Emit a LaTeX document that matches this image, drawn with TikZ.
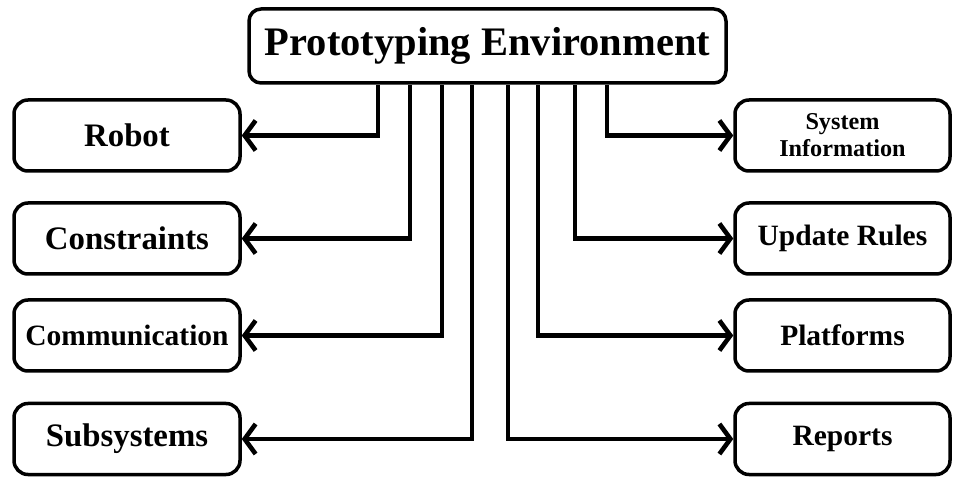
\documentclass[tikz,border=0pt]{standalone}
\usepackage{fontspec}
\setmainfont{Liberation Serif}
\usetikzlibrary{arrows.meta}
\begin{document}
\begin{tikzpicture}[x=1pt,y=-1pt,
  box/.style={draw, line width=3.5pt, rounded corners=14pt, align=center, inner sep=0pt, fill=white},
  sidebox/.style={box, minimum width=226pt, minimum height=71pt},
  txtbig/.style={font=\fontsize{32.8}{36}\selectfont\bfseries},
  txtmid/.style={font=\fontsize{29.5}{33}\selectfont\bfseries},
  txtsmall/.style={font=\fontsize{24.2}{27}\selectfont\bfseries},
  conn/.style={line width=4.6pt, {Straight Barb[length=11pt,width=30pt]}-}
]
\useasboundingbox (0,0) rectangle (954,478);
\fill[white] (0,0) rectangle (954,478);

% root
\node[box, rounded corners=12pt, minimum width=477pt, minimum height=74pt,
      font=\fontsize{40.5}{44}\selectfont\bfseries] (top) at (487.5,46) {Prototyping Environment};

% left column
\node[sidebox, txtbig] (robot) at (127,135.5) {Robot};
\node[sidebox, txtbig] (cons)  at (127,238.5) {Constraints};
\node[sidebox, txtmid] (comm)  at (127,335.5) {Communication};
\node[sidebox, txtbig] (subs)  at (127,439)   {Subsystems};

% right column
\node[sidebox, minimum width=215pt, txtsmall] (info) at (842.5,135.5) {System\\Information};
\node[sidebox, minimum width=215pt, txtmid] (rules)  at (842.5,238.5) {Update Rules};
\node[sidebox, minimum width=215pt, txtmid] (plat)   at (842.5,335.5) {Platforms};
\node[sidebox, minimum width=215pt, txtmid] (rep)    at (842.5,439)   {Reports};

% connectors
\draw[conn] (robot.east) -| ([xshift=-109.5pt]top.south);
\draw[conn] (cons.east)  -| ([xshift=-77.5pt]top.south);
\draw[conn] (comm.east)  -| ([xshift=-45.5pt]top.south);
\draw[conn] (subs.east)  -| ([xshift=-15.5pt]top.south);
\draw[conn] (rep.west)   -| ([xshift=20.5pt]top.south);
\draw[conn] (plat.west)  -| ([xshift=50.5pt]top.south);
\draw[conn] (rules.west) -| ([xshift=87.5pt]top.south);
\draw[conn] (info.west)  -| ([xshift=119.5pt]top.south);
\end{tikzpicture}
\end{document}
